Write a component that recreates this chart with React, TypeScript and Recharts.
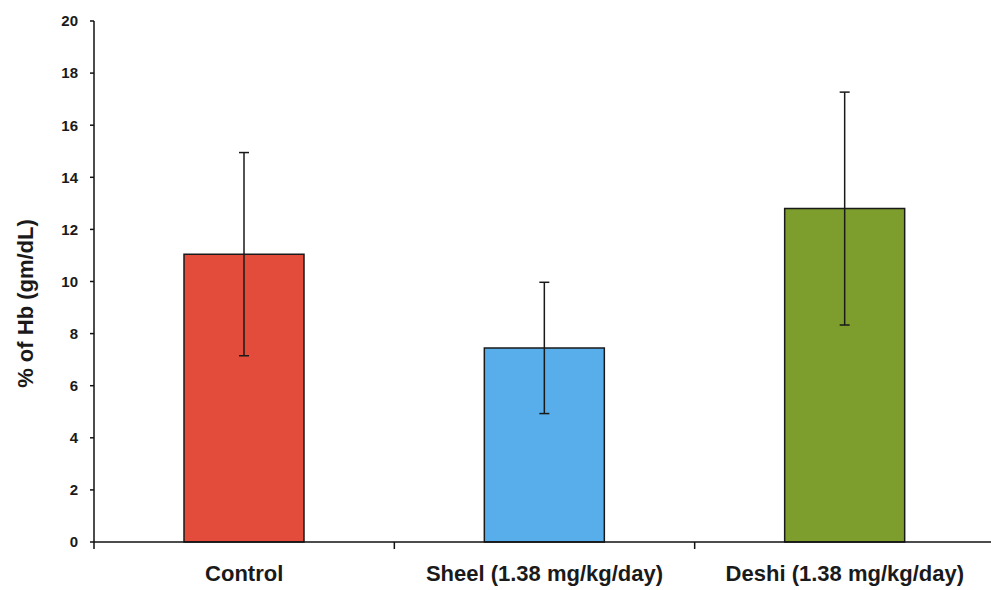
import { BarChart, Bar, XAxis, YAxis, ErrorBar, Cell } from "recharts";

const groups = ["Control", "Sheel (1.38 mg/kg/day)", "Deshi (1.38 mg/kg/day)"];
const hbMean = [11.05, 7.45, 12.8];
const hbSd = [3.9, 2.52, 4.47];
const barColors = ["#e34b3a", "#57aeea", "#7d9e2c"];
const yTicks = [0, 2, 4, 6, 8, 10, 12, 14, 16, 18, 20];

const data = groups.map((name, i) => ({
  name,
  value: hbMean[i],
  err: hbSd[i],
}));

const font = "'Liberation Sans', Arial, sans-serif";

// category label plus tick marks on the band edges (Excel style)
function GroupTick(props: any) {
  const { x, y, payload, index } = props;
  const half = payload.offset || 0;
  const axisY = y - 23;
  return (
    <g>
      {index === 0 && (
        <line x1={x - half} x2={x - half} y1={axisY} y2={axisY + 7} stroke="#111" strokeWidth={1.5} />
      )}
      <line x1={x + half} x2={x + half} y1={axisY} y2={axisY + 7} stroke="#111" strokeWidth={1.5} />
      <text
        x={x}
        y={y}
        dy="0.71em"
        textAnchor="middle"
        fontSize={22}
        fontWeight={700}
        fill="#1a1a1a"
        fontFamily={font}
      >
        {payload.value}
      </text>
    </g>
  );
}

export default function App() {
  return (
    <div
      style={{
        position: "absolute",
        left: 0,
        top: 0,
        width: 991,
        height: 590,
        overflow: "hidden",
        background: "#fff",
      }}
    >
      <BarChart
        width={1000}
        height={590}
        data={data}
        margin={{ top: 21, right: 5, bottom: 1, left: 0 }}
        barSize={120}
      >
        <XAxis
          dataKey="name"
          height={47}
          tickLine={false}
          tickSize={6}
          tickMargin={17}
          axisLine={{ stroke: "#111", strokeWidth: 1.5 }}
          tick={<GroupTick />}
          interval={0}
        />
        <YAxis
          domain={[0, 20]}
          ticks={yTicks}
          width={94}
          tickSize={4}
          tickMargin={12}
          axisLine={{ stroke: "#111", strokeWidth: 1.5 }}
          tickLine={{ stroke: "#111", strokeWidth: 1.5 }}
          tick={{ fontSize: 15, fontWeight: 700, fill: "#1a1a1a", fontFamily: font }}
          label={{
            value: "% of Hb (gm/dL)",
            angle: -90,
            position: "center",
            dx: -22,
            dy: 22,
            style: { fontSize: 22, fontWeight: 700, fill: "#1a1a1a", fontFamily: font },
          }}
        />
        <Bar
          dataKey="value"
          stroke="#1a1a1a"
          strokeWidth={1.5}
          isAnimationActive={false}
        >
          {data.map((d, i) => (
            <Cell key={d.name} fill={barColors[i]} />
          ))}
          <ErrorBar dataKey="err" width={5} stroke="#1a1a1a" strokeWidth={1.5} />
        </Bar>
      </BarChart>
    </div>
  );
}
